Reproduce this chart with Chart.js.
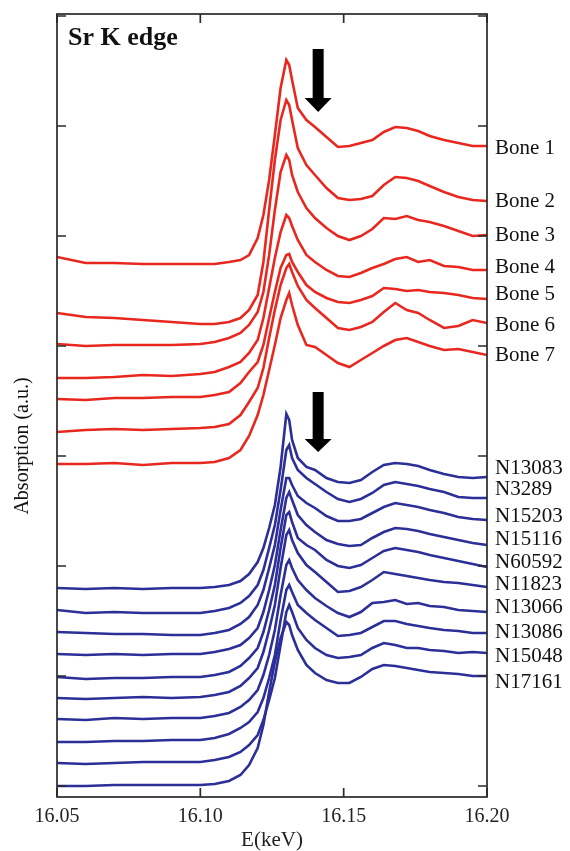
<!DOCTYPE html>
<html><head><meta charset="utf-8">
<script src="https://cdn.jsdelivr.net/npm/chart.js@4.4.1/dist/chart.umd.min.js"></script>
<style>html,body{margin:0;padding:0;background:#fff}#wrap{width:570px;height:851px;position:relative}</style>
</head><body><div id="wrap"><canvas id="c"></canvas></div>
<script>
// Energy grid (keV)
const energy = [16.050,16.060,16.070,16.080,16.090,16.100,16.105,16.110,16.114,16.117,16.120,16.122,16.124,16.126,16.128,16.130,16.131,16.132,16.134,16.137,16.140,16.144,16.148,16.152,16.156,16.160,16.164,16.168,16.172,16.176,16.180,16.185,16.190,16.195,16.200];

// Absorption (a.u., vertically offset for display)
const bone1 = [543,537,537,536,536,536,536,538,540,545,562,585,620,665,712,740,735,720,692,680,673,663,653,654,657,660,668,673,672,669,664,660,657,654,654];
const bone2 = [487,483,482,480,478,476,476,478,482,490,505,538,590,640,680,700,695,680,652,635,625,612,602,600,601,604,615,623,622,619,614,608,603,600,599];
const bone3 = [456,454,455,455,455,456,458,462,467,475,488,508,545,590,628,645,640,625,608,592,582,572,564,560,564,571,582,581,584,580,578,574,569,564,565];
const bone4 = [422,422,423,425,424,426,428,433,438,447,460,482,512,542,568,585,582,574,560,545,538,530,524,523,527,532,536,541,543,538,540,534,533,530,530];
const bone5 = [401,400,402,402,403,403,405,408,417,428,438,455,482,508,532,545,546,538,528,515,508,502,498,497,500,504,512,511,509,510,508,507,505,502,501];
const bone6 = [368,370,371,370,371,372,373,376,385,398,412,432,462,490,515,532,536,528,514,500,492,482,472,470,473,478,488,497,490,487,480,472,474,480,477];
const bone7 = [336,336,337,335,337,337,338,342,350,364,385,405,430,455,482,500,507,495,475,455,453,445,437,433,440,447,454,460,462,458,454,450,451,448,445];

const n13083 = [212,211,212,211,212,212,213,215,219,226,238,252,272,295,333,386,380,360,342,333,330,322,318,317,320,328,335,337,336,334,330,326,323,322,323];
const n3289  = [190,187,188,187,187,187,189,192,197,204,215,230,252,275,310,350,355,342,330,322,316,308,301,298,301,307,315,318,316,314,311,308,303,302,302];
const n15203 = [168,167,166,166,165,165,167,170,176,183,195,210,232,255,290,322,322,315,304,297,292,284,279,279,281,287,293,297,295,293,290,287,283,281,280];
const n15116 = [146,145,146,145,146,146,148,151,155,162,172,188,210,235,270,302,308,300,285,275,268,260,256,254,255,262,268,272,271,269,266,263,260,257,255];
const n60592 = [123,121,122,122,123,123,125,128,134,142,152,168,190,215,252,285,288,278,262,255,250,240,234,232,235,242,249,252,250,248,245,242,239,236,233];
const n11823 = [102,101,102,103,102,103,105,108,114,122,132,148,170,195,232,265,270,260,247,235,228,218,208,209,213,220,228,226,224,222,220,218,217,215,213];
const n13066 = [81,80,82,81,82,82,84,87,93,100,110,125,145,170,205,235,240,232,220,210,202,194,187,183,188,197,198,200,196,197,194,193,190,189,188];
const n13086 = [58,58,59,59,60,60,62,66,72,78,88,102,122,145,180,210,215,208,195,187,180,172,164,165,167,173,179,179,176,174,172,170,169,167,167];
const n15048 = [37,36,37,38,38,38,40,43,48,55,65,80,100,122,155,188,195,188,172,160,152,145,142,143,145,152,157,155,152,152,150,149,147,148,147];
const n17161 = [14,14,15,15,15,15,16,19,25,35,52,75,108,138,162,178,175,165,150,135,127,120,117,117,123,131,135,134,132,130,128,127,126,124,124];

const boneNames = ['Bone 1','Bone 2','Bone 3','Bone 4','Bone 5','Bone 6','Bone 7'];
const sampleNames = ['N13083','N3289','N15203','N15116','N60592','N11823','N13066','N13086','N15048','N17161'];
const boneLabelY = [652,599,565,533,506,475,445];
const sampleLabelY = [332,311,284,261,238,216,193,168,144,118];

const xTicks = [16.05,16.10,16.15,16.20];
const yTicks = [14,124,234,344,454,564,674,784];
const arrowX = 16.1411;
const arrowUpper = [751,702,688];
const arrowLower = [408,361,348];

const RED = '#e8271f';
const BLUE = '#2b2f97';

const boneSeries = [bone1,bone2,bone3,bone4,bone5,bone6,bone7];
const sampleSeries = [n13083,n3289,n15203,n15116,n60592,n11823,n13066,n13086,n15048,n17161];

function mk(d, name, color){
  return {label:name, data: energy.map((e,j)=>({x:e,y:d[j]})), borderColor:color, backgroundColor:color,
    borderWidth:2.6, pointRadius:0, tension:0, fill:false};
}
const datasets = [
  ...boneSeries.map((d,i)=>mk(d,boneNames[i],RED)),
  ...sampleSeries.map((d,i)=>mk(d,sampleNames[i],BLUE))
];

const deco = {
  id:'deco',
  afterDatasetsDraw(chart){
    const {ctx, chartArea:a, scales:{x,y}} = chart;
    ctx.save();
    ctx.strokeStyle='#2a2a2a'; ctx.lineWidth=1.7;
    ctx.strokeRect(a.left, a.top, a.right-a.left, a.bottom-a.top);
    const L=9;
    ctx.beginPath();
    xTicks.forEach(v=>{const p=x.getPixelForValue(v); ctx.moveTo(p,a.bottom); ctx.lineTo(p,a.bottom-L); ctx.moveTo(p,a.top); ctx.lineTo(p,a.top+L);});
    yTicks.forEach(v=>{const p=y.getPixelForValue(v); ctx.moveTo(a.left,p); ctx.lineTo(a.left+L,p); ctx.moveTo(a.right,p); ctx.lineTo(a.right-L,p);});
    ctx.stroke();
    // series labels
    ctx.fillStyle='#111'; ctx.font='21px "Liberation Serif"'; ctx.textAlign='left'; ctx.textBaseline='middle';
    boneNames.forEach((n,i)=>ctx.fillText(n, a.right+8, y.getPixelForValue(boneLabelY[i])));
    sampleNames.forEach((n,i)=>ctx.fillText(n, a.right+8, y.getPixelForValue(sampleLabelY[i])));
    // arrows
    ctx.fillStyle='#000';
    [arrowUpper, arrowLower].forEach(ar=>{
      const cx=x.getPixelForValue(arrowX);
      const t=y.getPixelForValue(ar[0]), h=y.getPixelForValue(ar[1]), tip=y.getPixelForValue(ar[2]);
      ctx.beginPath();
      ctx.moveTo(cx-5.5,t); ctx.lineTo(cx+5.5,t); ctx.lineTo(cx+5.5,h); ctx.lineTo(cx+13.5,h);
      ctx.lineTo(cx,tip); ctx.lineTo(cx-13.5,h); ctx.lineTo(cx-5.5,h); ctx.closePath(); ctx.fill();
    });
    // panel title
    ctx.fillStyle='#111';
    ctx.font='bold 26px "Liberation Serif"'; ctx.textBaseline='alphabetic'; ctx.textAlign='left';
    ctx.fillText('Sr K edge', a.left+11, 45);
    // y axis title
    ctx.save(); ctx.translate(23, 446); ctx.rotate(-Math.PI/2);
    ctx.textAlign='center'; ctx.textBaseline='middle'; ctx.font='20px "Liberation Serif"';
    ctx.fillText('Absorption (a.u.)',0,0); ctx.restore();
    ctx.restore();
  }
};

new Chart(document.getElementById('c'), {
  type:'line',
  data:{datasets},
  options:{
    responsive:true, maintainAspectRatio:false, animation:false,
    layout:{padding:{left:0, top:14, right:83, bottom:0}},
    plugins:{legend:{display:false}, tooltip:{enabled:false}},
    scales:{
      x:{type:'linear', min:16.05, max:16.20,
        grid:{display:false, drawTicks:false}, border:{display:false},
        ticks:{stepSize:0.05, autoSkip:false, maxRotation:0, padding:8, color:'#222',
          font:{family:'Liberation Serif', size:20}, callback:v=>Number(v).toFixed(2)},
        title:{display:true, text:'E(keV)', color:'#222', font:{family:'Liberation Serif', size:21, lineHeight:1}, padding:{top:0,bottom:0}},
        afterFit(s){ s.height = 54; }
      },
      y:{type:'linear', min:3, max:786,
        grid:{display:false, drawTicks:false}, border:{display:false},
        ticks:{display:false},
        afterFit(s){ s.width = 57; }
      }
    }
  },
  plugins:[deco]
});
</script>
</body></html>
